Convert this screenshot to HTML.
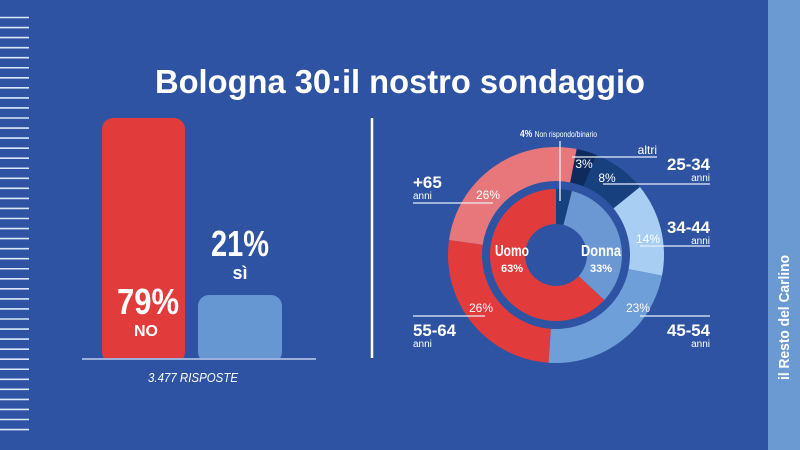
<!DOCTYPE html>
<html><head><meta charset="utf-8"><style>
html,body{margin:0;padding:0;width:800px;height:450px;overflow:hidden;background:#2e53a2}
svg{display:block}
text{font-family:"Liberation Sans Narrow","Liberation Sans",sans-serif;fill:#fff}
</style></head><body>
<svg id="s" width="800" height="450" viewBox="0 0 800 450">
<rect width="800" height="450" fill="#2e53a2"/>
<g id="ticks" stroke="#dce8f8" stroke-width="1.6"></g>
<rect x="768" y="0" width="32" height="450" fill="#6b9ad3"/>
<text transform="translate(789,380) rotate(-90)" font-size="15" font-weight="bold" style="font-family:'Liberation Sans',sans-serif" textLength="125" lengthAdjust="spacingAndGlyphs">il Resto del Carlino</text>
<text x="400" y="93" text-anchor="middle" font-size="33" font-weight="bold" style="font-family:'Liberation Sans',sans-serif" textLength="490" lengthAdjust="spacingAndGlyphs">Bologna 30:il nostro sondaggio</text>
<rect x="102" y="118" width="83" height="245" rx="11" fill="#e23b3b"/>
<rect x="198" y="295" width="84" height="68" rx="11" fill="#6797d2"/>
<rect x="82" y="358" width="234" height="6" fill="#2e53a2"/>
<line x1="82" y1="359" x2="316" y2="359" stroke="#dce8f8" stroke-width="1.2"/>
<text x="117" y="314" font-size="36" font-weight="bold" textLength="62" lengthAdjust="spacingAndGlyphs">79%</text>
<text x="146" y="336" text-anchor="middle" font-size="16" font-weight="bold" textLength="24" lengthAdjust="spacingAndGlyphs">NO</text>
<text x="211" y="256" font-size="36" font-weight="bold" textLength="58" lengthAdjust="spacingAndGlyphs">21%</text>
<text x="240" y="279" text-anchor="middle" font-size="18" font-weight="bold">sì</text>
<text x="148" y="382" font-size="13" font-style="italic" fill="#e0eaf8" textLength="90" lengthAdjust="spacingAndGlyphs">3.477 RISPOSTE</text>
<line x1="372" y1="118" x2="372" y2="358" stroke="#fff" stroke-width="2.5"/>
<g id="donut"></g>
<g stroke="#e8eef8" stroke-width="1.3">
<line x1="413" y1="203" x2="493" y2="203"/>
<line x1="413" y1="316" x2="485" y2="316"/>
<line x1="572" y1="157" x2="657" y2="157"/>
<line x1="603" y1="184" x2="710" y2="184"/>
<line x1="640" y1="246" x2="710" y2="246"/>
<line x1="640" y1="316" x2="710" y2="316"/>
<line x1="560" y1="141" x2="560" y2="201"/>
</g>
<text x="520" y="137" font-size="10" font-weight="bold" textLength="77" lengthAdjust="spacingAndGlyphs">4% <tspan font-size="8" font-weight="normal">Non rispondo/binario</tspan></text>
<text x="657" y="154" text-anchor="end" font-size="12">altri</text>
<text x="413" y="188" font-size="17" font-weight="bold">+65</text>
<text x="413" y="199" font-size="10">anni</text>
<text x="413" y="336" font-size="17" font-weight="bold" textLength="43" lengthAdjust="spacingAndGlyphs">55-64</text>
<text x="413" y="347" font-size="10">anni</text>
<text x="667" y="170" font-size="17" font-weight="bold" textLength="43" lengthAdjust="spacingAndGlyphs">25-34</text>
<text x="710" y="181" text-anchor="end" font-size="10">anni</text>
<text x="667" y="233" font-size="17" font-weight="bold" textLength="43" lengthAdjust="spacingAndGlyphs">34-44</text>
<text x="710" y="244" text-anchor="end" font-size="10">anni</text>
<text x="667" y="336" font-size="17" font-weight="bold" textLength="43" lengthAdjust="spacingAndGlyphs">45-54</text>
<text x="710" y="347" text-anchor="end" font-size="10">anni</text>
<g font-size="12" fill="#f0f4fb">
<text x="488" y="199" text-anchor="middle">26%</text>
<text x="584" y="168" text-anchor="middle">3%</text>
<text x="607" y="182" text-anchor="middle">8%</text>
<text x="648" y="243" text-anchor="middle">14%</text>
<text x="638" y="312" text-anchor="middle">23%</text>
<text x="481" y="312" text-anchor="middle">26%</text>
</g>
<text x="495" y="256" font-size="16" font-weight="bold" textLength="34" lengthAdjust="spacingAndGlyphs">Uomo</text>
<text x="512" y="272" text-anchor="middle" font-size="11" font-weight="bold">63%</text>
<text x="581" y="256" font-size="16" font-weight="bold" textLength="40" lengthAdjust="spacingAndGlyphs">Donna</text>
<text x="601" y="272" text-anchor="middle" font-size="11" font-weight="bold">33%</text>
</svg>
<script>
var ns="http://www.w3.org/2000/svg";
var t=document.getElementById("ticks");
for(var i=0;i<42;i++){var y=17.5+i*10.05;var l=document.createElementNS(ns,"line");l.setAttribute("x1",0);l.setAttribute("x2",29);l.setAttribute("y1",y);l.setAttribute("y2",y);t.appendChild(l);}
var cx=556,cy=255;
function P(r,a){a=a*Math.PI/180;return [cx+r*Math.sin(a),cy-r*Math.cos(a)];}
function arc(r1,r2,a1,a2,c){var p1=P(r2,a1),p2=P(r2,a2),p3=P(r1,a2),p4=P(r1,a1);var lg=(a2-a1)>180?1:0;
var d="M"+p1+"A"+r2+","+r2+" 0 "+lg+" 1 "+p2+"L"+p3+"A"+r1+","+r1+" 0 "+lg+" 0 "+p4+"Z";
var e=document.createElementNS(ns,"path");e.setAttribute("d",d);e.setAttribute("fill",c);document.getElementById("donut").appendChild(e);}
arc(74,108,11,22,"#0f2a5c");
arc(74,108,22,51,"#17407e");
arc(74,108,51,101,"#a8cff3");
arc(74,108,101,184,"#6e9fd9");
arc(74,108,184,278,"#e23b3b");
arc(74,108,278,371,"#e8777b");
arc(31,66,0,14,"#17407e");
arc(31,66,14,133,"#6b98d3");
arc(31,66,133,360,"#e23b3b");
</script>
</body></html>
